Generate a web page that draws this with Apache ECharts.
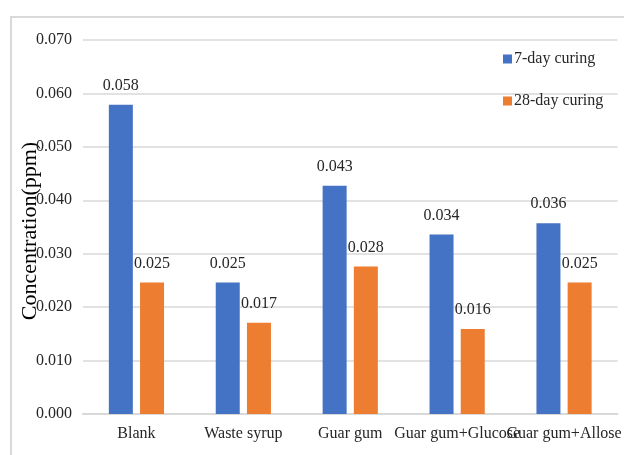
<!DOCTYPE html>
<html>
<head>
<meta charset="utf-8">
<script src="https://cdn.jsdelivr.net/npm/echarts@6/dist/echarts.min.js"></script>
<style>
html,body{margin:0;padding:0;background:#fff;}
#chart{width:624px;height:455px;}
</style>
</head>
<body>
<div id="chart"></div>
<script>
const categories = ['Blank', 'Waste syrup', 'Guar gum', 'Guar gum+Glucose', 'Guar gum+Allose'];
const curing7 = [0.0579, 0.0246, 0.0427, 0.0336, 0.0357];
const curing28 = [0.0246, 0.0171, 0.0276, 0.0159, 0.0246];
const seriesNames = ['7-day curing', '28-day curing'];
const yTicks = { min: 0, max: 0.07, interval: 0.01 };

const font = '"Liberation Serif", "Times New Roman", serif';
const chart = echarts.init(document.getElementById('chart'), null, { renderer: 'canvas' });
const labelOpt = {
  show: true,
  position: 'top',
  distance: 11,
  color: '#262626',
  fontFamily: font,
  fontSize: 16,
  formatter: p => p.value.toFixed(3)
};
chart.setOption({
  animation: false,
  backgroundColor: '#ffffff',
  graphic: [{
    type: 'rect',
    shape: { x: 11, y: 17, width: 640, height: 460 },
    style: { fill: 'none', stroke: '#d9d9d9', lineWidth: 2 },
    silent: true, z: -1
  }],
  grid: { left: 83, right: 0, top: 40, bottom: 41, containLabel: false },
  legend: {
    orient: 'vertical',
    left: 503,
    top: 51,
    padding: 0,
    itemGap: 26,
    itemWidth: 9,
    itemHeight: 9,
    icon: 'rect',
    textStyle: { fontFamily: font, fontSize: 16, color: '#262626', padding: [0, 0, 0, -3] },
    data: seriesNames
  },
  xAxis: {
    type: 'category',
    data: categories,
    axisLine: { lineStyle: { color: '#d9d9d9', width: 2 } },
    axisTick: { show: false },
    axisLabel: { color: '#262626', fontFamily: font, fontSize: 16, margin: 12, interval: 0 }
  },
  yAxis: {
    type: 'value',
    min: yTicks.min,
    max: yTicks.max,
    interval: yTicks.interval,
    name: 'Concentration(ppm)',
    nameLocation: 'middle',
    nameGap: 42,
    nameMoveOverlap: false,
    nameTextStyle: { fontFamily: font, fontSize: 22, color: '#000', padding: [0, 8, 0, 0] },
    axisLine: { show: false },
    axisTick: { show: false },
    axisLabel: { color: '#262626', fontFamily: font, fontSize: 16, margin: 11, formatter: v => v.toFixed(3) },
    splitLine: { lineStyle: { color: '#d9d9d9', width: 1.5 } }
  },
  series: [
    {
      name: seriesNames[0], type: 'bar', data: curing7,
      barWidth: 24, barGap: '30%',
      itemStyle: { color: '#4472c4' },
      label: labelOpt
    },
    {
      name: seriesNames[1], type: 'bar', data: curing28,
      barWidth: 24,
      itemStyle: { color: '#ed7d31' },
      label: labelOpt
    }
  ]
});
</script>
</body>
</html>
